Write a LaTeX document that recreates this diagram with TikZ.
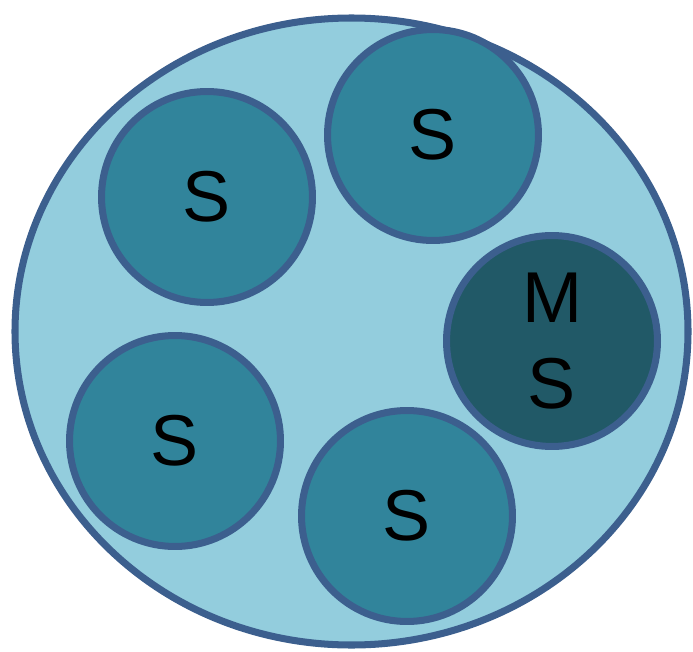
\documentclass[tikz,border=0pt]{standalone}
\usepackage{fontspec}
\setmainfont{Liberation Sans}
\definecolor{rimblue}{HTML}{3C5F8E}
\definecolor{poolblue}{HTML}{93CDDD}
\definecolor{slaveteal}{HTML}{31849B}
\definecolor{masterteal}{HTML}{215967}
\begin{document}
\begin{tikzpicture}[x=0.02cm,y=-0.02cm,line cap=round,line join=round,
  unit/.style={circle,draw=rimblue,line width=4pt,fill=slaveteal,minimum size=4.22cm,inner sep=0pt,
    align=center,font=\fontsize{41}{49}\selectfont},
  master/.style={unit,fill=masterteal}]
  \useasboundingbox (0,0) rectangle (693,652);
  % outer pool
  \draw[rimblue,fill=poolblue,line width=4pt] (351.5,331.5) ellipse[x radius=336.5,y radius=313.5];
  % members
  \node[unit] (s1) at (207,197) {S};
  \node[unit] (s2) at (433,135) {S};
  \node[master] (ms) at (552,341) {M\\S};
  \node[unit] (s3) at (175,441) {S};
  \node[unit] (s4) at (407,516) {S};
\end{tikzpicture}
\end{document}
